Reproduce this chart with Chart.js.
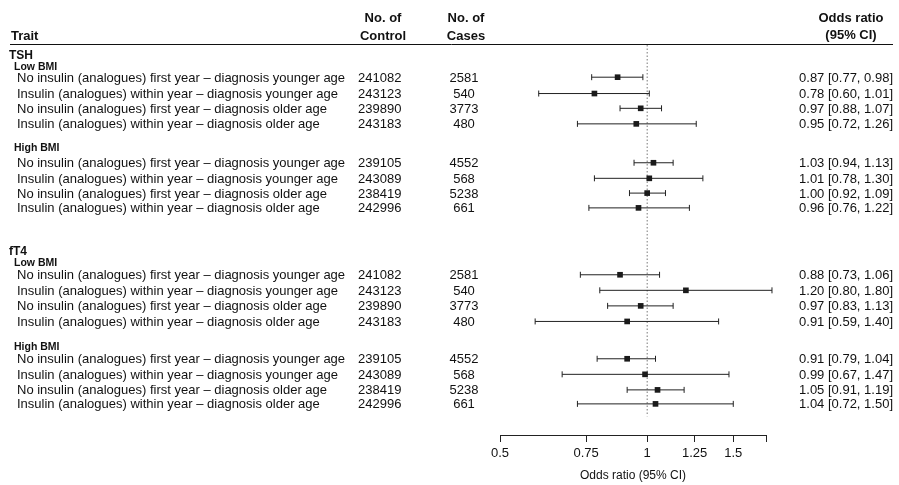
<!DOCTYPE html>
<html lang="en">
<head>
<meta charset="UTF-8">
<title>Forest plot</title>
<script src="https://cdn.jsdelivr.net/npm/chart.js"></script>
<style>
  html, body { margin: 0; padding: 0; background: #fff; }
  #wrap { width: 899px; height: 485px; }
</style>
</head>
<body>
<div id="wrap"><canvas id="forest"></canvas></div>
<script>
// rows
var traits = [
  'No insulin (analogues) first year \u2013 diagnosis younger age',
  'Insulin (analogues) within year \u2013 diagnosis younger age',
  'No insulin (analogues) first year \u2013 diagnosis older age',
  'Insulin (analogues) within year \u2013 diagnosis older age'
];
var rowLabels = traits.concat(traits, traits, traits);
var controls = [241082, 243123, 239890, 243183, 239105, 243089, 238419, 242996,
                241082, 243123, 239890, 243183, 239105, 243089, 238419, 242996];
var cases = [2581, 540, 3773, 480, 4552, 568, 5238, 661,
             2581, 540, 3773, 480, 4552, 568, 5238, 661];
var oddsRatio = [0.87, 0.78, 0.97, 0.95, 1.03, 1.01, 1.00, 0.96,
                 0.88, 1.20, 0.97, 0.91, 0.91, 0.99, 1.05, 1.04];
var ciLow = [0.77, 0.60, 0.88, 0.72, 0.94, 0.78, 0.92, 0.76,
             0.73, 0.80, 0.83, 0.59, 0.79, 0.67, 0.91, 0.72];
var ciHigh = [0.98, 1.01, 1.07, 1.26, 1.13, 1.30, 1.09, 1.22,
              1.06, 1.80, 1.13, 1.40, 1.04, 1.47, 1.19, 1.50];
// vertical slot of each row (0 = first row)
var rowPos = [0, 1.05, 2, 3, 5.5, 6.5, 7.45, 8.4, 12.7, 13.7, 14.7, 15.7, 18.1, 19.1, 20.1, 21];
var groupLabels = [
  { text: 'TSH', y: -1.4, size: 12, x: 9 },
  { text: 'Low BMI', y: -0.65, size: 10.5, x: 14 },
  { text: 'High BMI', y: 4.55, size: 10.5, x: 14 },
  { text: 'fT4', y: 11.2, size: 12, x: 9 },
  { text: 'Low BMI', y: 11.95, size: 10.5, x: 14 },
  { text: 'High BMI', y: 17.35, size: 10.5, x: 14 }
];
var xTicks = [0.5, 0.75, 1, 1.25, 1.5, 1.75];

var FONT = '"Liberation Sans", Arial, sans-serif';

var points = oddsRatio.map(function (v, i) { return { x: v, y: rowPos[i] }; });

var forestPlugin = {
  id: 'forest',
  beforeDatasetsDraw: function (chart) {
    var ctx = chart.ctx, xs = chart.scales.x, ys = chart.scales.y, a = chart.chartArea;
    ctx.save();
    // reference line at 1
    var x1 = xs.getPixelForValue(1);
    ctx.strokeStyle = '#777';
    ctx.lineWidth = 1;
    ctx.setLineDash([1.5, 2]);
    ctx.beginPath();
    ctx.moveTo(x1, a.top);
    ctx.lineTo(x1, ys.getPixelForValue(21.8));
    ctx.stroke();
    ctx.setLineDash([]);
    // CI whiskers
    ctx.strokeStyle = '#222';
    for (var i = 0; i < oddsRatio.length; i++) {
      var y = ys.getPixelForValue(rowPos[i]);
      var l = xs.getPixelForValue(ciLow[i]), h = xs.getPixelForValue(ciHigh[i]);
      ctx.beginPath();
      ctx.moveTo(l, y); ctx.lineTo(h, y);
      ctx.moveTo(l, y - 3); ctx.lineTo(l, y + 3);
      ctx.moveTo(h, y - 3); ctx.lineTo(h, y + 3);
      ctx.stroke();
    }
    ctx.restore();
  },
  afterDraw: function (chart) {
    var ctx = chart.ctx, ys = chart.scales.y, a = chart.chartArea;
    ctx.save();
    ctx.fillStyle = '#111';
    ctx.textBaseline = 'middle';
    // header
    ctx.font = 'bold 13px ' + FONT;
    ctx.textAlign = 'left';
    ctx.fillText('Trait', 11, 36);
    ctx.textAlign = 'center';
    ctx.fillText('No. of', 383, 18);
    ctx.fillText('Control', 383, 36);
    ctx.fillText('No. of', 466, 18);
    ctx.fillText('Cases', 466, 36);
    ctx.fillText('Odds ratio', 851, 18);
    ctx.fillText('(95% CI)', 851, 35);
    ctx.strokeStyle = '#111';
    ctx.lineWidth = 1;
    ctx.beginPath();
    ctx.moveTo(10, a.top - 0.5); ctx.lineTo(893, a.top - 0.5);
    ctx.stroke();
    // group labels
    groupLabels.forEach(function (g) {
      ctx.font = 'bold ' + g.size + 'px ' + FONT;
      ctx.textAlign = 'left';
      ctx.fillText(g.text, g.x, ys.getPixelForValue(g.y));
    });
    // rows
    ctx.font = '13px ' + FONT;
    for (var i = 0; i < rowLabels.length; i++) {
      var y = ys.getPixelForValue(rowPos[i]) + 1;
      ctx.textAlign = 'left';
      ctx.fillText(rowLabels[i], 17, y);
      ctx.fillText(String(controls[i]), 358, y);
      ctx.textAlign = 'center';
      ctx.fillText(String(cases[i]), 464, y);
      ctx.textAlign = 'right';
      ctx.fillText(oddsRatio[i].toFixed(2) + ' [' + ciLow[i].toFixed(2) + ', ' + ciHigh[i].toFixed(2) + ']', 893, y);
    }
    ctx.restore();
  }
};

new Chart(document.getElementById('forest').getContext('2d'), {
  type: 'scatter',
  data: {
    datasets: [{
      data: points,
      pointStyle: 'rect',
      pointRadius: 4,
      pointHoverRadius: 4,
      backgroundColor: '#1a1a1a',
      borderColor: '#1a1a1a',
      borderWidth: 0
    }]
  },
  options: {
    responsive: true,
    maintainAspectRatio: false,
    animation: false,
    events: [],
    layout: { padding: { left: 500, right: 133, top: 45, bottom: 2 } },
    plugins: { legend: { display: false }, tooltip: { enabled: false } },
    scales: {
      x: {
        type: 'logarithmic',
        min: 0.5,
        max: 1.75,
        afterBuildTicks: function (axis) {
          axis.ticks = xTicks.map(function (v) { return { value: v }; });
        },
        ticks: {
          autoSkip: false,
          maxRotation: 0,
          color: '#111',
          font: { family: FONT, size: 13 },
          padding: 4,
          callback: function (v) { return v === 1.75 ? '' : String(v); }
        },
        grid: { drawOnChartArea: false, drawTicks: true, tickLength: 7, color: '#222' },
        border: { display: true, color: '#222', width: 1 },
        title: { display: true, text: 'Odds ratio (95% CI)', color: '#111', font: { family: FONT, size: 12 }, padding: { top: 3, bottom: 0 } }
      },
      y: {
        type: 'linear',
        reverse: true,
        min: -2.07,
        max: 23,
        display: false
      }
    }
  },
  plugins: [forestPlugin]
});
</script>
</body>
</html>
